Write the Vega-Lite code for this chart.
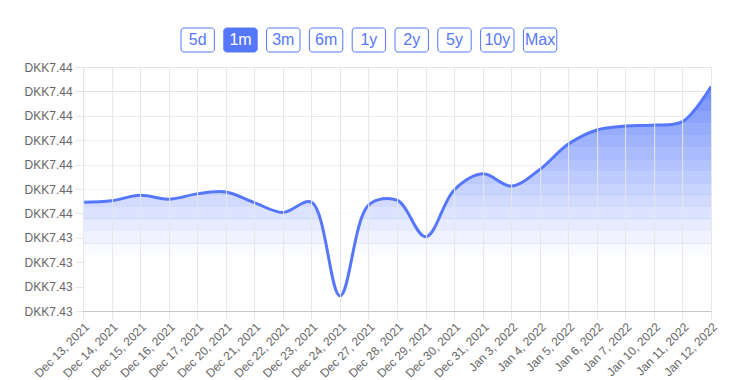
{
  "$schema": "https://vega.github.io/schema/vega-lite/v6.json",
  "padding": {"left": 24, "top": 27, "right": 5, "bottom": 5},
  "background": "white",
  "center": true,
  "config": {
    "font": "Liberation Sans",
    "view": {"stroke": null},
    "concat": {"spacing": 8},
    "axisY": {
      "title": null,
      "zindex": 1,
      "grid": true,
      "labelOverlap": false,
      "labelFlush": false,
      "labelFontSize": 12,
      "labelColor": "#666",
      "labelPadding": 3,
      "tickSize": 8,
      "tickColor": "#e6e6e6",
      "gridColor": "#e6e6e6",
      "domainColor": "#c8c8c8"
    }
  },
  "datasets": {
    "buttons": [
      {"label": "5d", "selected": false},
      {"label": "1m", "selected": true},
      {"label": "3m", "selected": false},
      {"label": "6m", "selected": false},
      {"label": "1y", "selected": false},
      {"label": "2y", "selected": false},
      {"label": "5y", "selected": false},
      {"label": "10y", "selected": false},
      {"label": "Max", "selected": false}
    ],
    "rates": [
      {"date": "Dec 13, 2021", "rate": 7.43553},
      {"date": "Dec 14, 2021", "rate": 7.43556},
      {"date": "Dec 15, 2021", "rate": 7.43567},
      {"date": "Dec 16, 2021", "rate": 7.43559},
      {"date": "Dec 17, 2021", "rate": 7.43570},
      {"date": "Dec 20, 2021", "rate": 7.43574},
      {"date": "Dec 21, 2021", "rate": 7.43552},
      {"date": "Dec 22, 2021", "rate": 7.43532},
      {"date": "Dec 23, 2021", "rate": 7.43553},
      {"date": "Dec 24, 2021", "rate": 7.43361},
      {"date": "Dec 27, 2021", "rate": 7.43547},
      {"date": "Dec 28, 2021", "rate": 7.43557},
      {"date": "Dec 29, 2021", "rate": 7.43482},
      {"date": "Dec 30, 2021", "rate": 7.43578},
      {"date": "Dec 31, 2021", "rate": 7.43611},
      {"date": "Jan 3, 2022", "rate": 7.43586},
      {"date": "Jan 4, 2022", "rate": 7.43620},
      {"date": "Jan 5, 2022", "rate": 7.43672},
      {"date": "Jan 6, 2022", "rate": 7.43701},
      {"date": "Jan 7, 2022", "rate": 7.43709},
      {"date": "Jan 10, 2022", "rate": 7.43711},
      {"date": "Jan 11, 2022", "rate": 7.43718},
      {"date": "Jan 12, 2022", "rate": 7.43790}
    ]
  },
  "vconcat": [
    {
      "width": 440,
      "height": 24,
      "data": {"name": "buttons"},
      "encoding": {
        "x": {
          "field": "label",
          "type": "nominal",
          "sort": null,
          "axis": null,
          "scale": {"type": "band", "paddingInner": 0.22, "paddingOuter": 0.75, "align": 0}
        }
      },
      "layer": [
        {
          "mark": {"type": "bar", "cornerRadius": 3, "strokeWidth": 1, "stroke": "#5677fc"},
          "encoding": {
            "fill": {
              "condition": {"test": "datum.selected", "value": "#5677fc"},
              "value": "white"
            }
          }
        },
        {
          "mark": {"type": "text", "fontSize": 16, "baseline": "middle"},
          "encoding": {
            "text": {"field": "label"},
            "color": {
              "condition": {"test": "datum.selected", "value": "white"},
              "value": "#5677fc"
            },
            "fontWeight": {
              "condition": {"test": "datum.selected", "value": "bold"},
              "value": "normal"
            }
          }
        }
      ]
    },
    {
      "width": 628,
      "height": 244,
      "layer": [
        {
          "data": {"name": "rates"},
          "mark": {"type": "area", "interpolate": "catmull-rom", "clip": true, "color": "#5677fc", "opacity": 0.82},
          "encoding": {
            "x": {
              "field": "date",
              "type": "ordinal",
              "sort": null,
              "scale": {"type": "point", "padding": 0},
              "axis": {
                "title": null,
                "zindex": 1,
                "labelAngle": -45,
                "labelAlign": "right",
                "labelBaseline": "top",
                "labelFontSize": 12,
                "labelColor": "#666",
                "labelPadding": 2,
                "tickSize": 8,
                "tickColor": "#e6e6e6",
                "grid": true,
                "gridColor": "#e6e6e6",
                "domainColor": "#c8c8c8",
                "labelOverlap": false
              }
            },
            "y": {
              "field": "rate",
              "type": "quantitative",
              "scale": {"domain": [7.4333, 7.4383], "zero": false, "nice": false},
              "axis": {"values": [7.4333, 7.4338, 7.4343, 7.4348, 7.4353, 7.4358, 7.4363, 7.4368, 7.4373, 7.4378, 7.4383], "labelExpr": "'DKK' + format(datum.value, '.2f')"}
            }
          }
        },
        {"data": {"values": [{}]}, "mark": {"type": "rect", "color": "white", "opacity": 0.036}, "encoding": {"y": {"datum": 7.43789, "type": "quantitative", "axis": {"values": [7.4333, 7.4338, 7.4343, 7.4348, 7.4353, 7.4358, 7.4363, 7.4368, 7.4373, 7.4378, 7.4383], "labelExpr": "'DKK' + format(datum.value, '.2f')"}}, "y2": {"datum": 7.43764}}},
        {"data": {"values": [{}]}, "mark": {"type": "rect", "color": "white", "opacity": 0.107}, "encoding": {"y": {"datum": 7.43764, "type": "quantitative", "axis": {"values": [7.4333, 7.4338, 7.4343, 7.4348, 7.4353, 7.4358, 7.4363, 7.4368, 7.4373, 7.4378, 7.4383], "labelExpr": "'DKK' + format(datum.value, '.2f')"}}, "y2": {"datum": 7.43740}}},
        {"data": {"values": [{}]}, "mark": {"type": "rect", "color": "white", "opacity": 0.179}, "encoding": {"y": {"datum": 7.43740, "type": "quantitative", "axis": {"values": [7.4333, 7.4338, 7.4343, 7.4348, 7.4353, 7.4358, 7.4363, 7.4368, 7.4373, 7.4378, 7.4383], "labelExpr": "'DKK' + format(datum.value, '.2f')"}}, "y2": {"datum": 7.43715}}},
        {"data": {"values": [{}]}, "mark": {"type": "rect", "color": "white", "opacity": 0.25}, "encoding": {"y": {"datum": 7.43715, "type": "quantitative", "axis": {"values": [7.4333, 7.4338, 7.4343, 7.4348, 7.4353, 7.4358, 7.4363, 7.4368, 7.4373, 7.4378, 7.4383], "labelExpr": "'DKK' + format(datum.value, '.2f')"}}, "y2": {"datum": 7.43691}}},
        {"data": {"values": [{}]}, "mark": {"type": "rect", "color": "white", "opacity": 0.32}, "encoding": {"y": {"datum": 7.43691, "type": "quantitative", "axis": {"values": [7.4333, 7.4338, 7.4343, 7.4348, 7.4353, 7.4358, 7.4363, 7.4368, 7.4373, 7.4378, 7.4383], "labelExpr": "'DKK' + format(datum.value, '.2f')"}}, "y2": {"datum": 7.43666}}},
        {"data": {"values": [{}]}, "mark": {"type": "rect", "color": "white", "opacity": 0.39}, "encoding": {"y": {"datum": 7.43666, "type": "quantitative", "axis": {"values": [7.4333, 7.4338, 7.4343, 7.4348, 7.4353, 7.4358, 7.4363, 7.4368, 7.4373, 7.4378, 7.4383], "labelExpr": "'DKK' + format(datum.value, '.2f')"}}, "y2": {"datum": 7.43641}}},
        {"data": {"values": [{}]}, "mark": {"type": "rect", "color": "white", "opacity": 0.46}, "encoding": {"y": {"datum": 7.43641, "type": "quantitative", "axis": {"values": [7.4333, 7.4338, 7.4343, 7.4348, 7.4353, 7.4358, 7.4363, 7.4368, 7.4373, 7.4378, 7.4383], "labelExpr": "'DKK' + format(datum.value, '.2f')"}}, "y2": {"datum": 7.43617}}},
        {"data": {"values": [{}]}, "mark": {"type": "rect", "color": "white", "opacity": 0.536}, "encoding": {"y": {"datum": 7.43617, "type": "quantitative", "axis": {"values": [7.4333, 7.4338, 7.4343, 7.4348, 7.4353, 7.4358, 7.4363, 7.4368, 7.4373, 7.4378, 7.4383], "labelExpr": "'DKK' + format(datum.value, '.2f')"}}, "y2": {"datum": 7.43592}}},
        {"data": {"values": [{}]}, "mark": {"type": "rect", "color": "white", "opacity": 0.607}, "encoding": {"y": {"datum": 7.43592, "type": "quantitative", "axis": {"values": [7.4333, 7.4338, 7.4343, 7.4348, 7.4353, 7.4358, 7.4363, 7.4368, 7.4373, 7.4378, 7.4383], "labelExpr": "'DKK' + format(datum.value, '.2f')"}}, "y2": {"datum": 7.43568}}},
        {"data": {"values": [{}]}, "mark": {"type": "rect", "color": "white", "opacity": 0.68}, "encoding": {"y": {"datum": 7.43568, "type": "quantitative", "axis": {"values": [7.4333, 7.4338, 7.4343, 7.4348, 7.4353, 7.4358, 7.4363, 7.4368, 7.4373, 7.4378, 7.4383], "labelExpr": "'DKK' + format(datum.value, '.2f')"}}, "y2": {"datum": 7.43543}}},
        {"data": {"values": [{}]}, "mark": {"type": "rect", "color": "white", "opacity": 0.75}, "encoding": {"y": {"datum": 7.43543, "type": "quantitative", "axis": {"values": [7.4333, 7.4338, 7.4343, 7.4348, 7.4353, 7.4358, 7.4363, 7.4368, 7.4373, 7.4378, 7.4383], "labelExpr": "'DKK' + format(datum.value, '.2f')"}}, "y2": {"datum": 7.43519}}},
        {"data": {"values": [{}]}, "mark": {"type": "rect", "color": "white", "opacity": 0.82}, "encoding": {"y": {"datum": 7.43519, "type": "quantitative", "axis": {"values": [7.4333, 7.4338, 7.4343, 7.4348, 7.4353, 7.4358, 7.4363, 7.4368, 7.4373, 7.4378, 7.4383], "labelExpr": "'DKK' + format(datum.value, '.2f')"}}, "y2": {"datum": 7.43494}}},
        {"data": {"values": [{}]}, "mark": {"type": "rect", "color": "white", "opacity": 0.89}, "encoding": {"y": {"datum": 7.43494, "type": "quantitative", "axis": {"values": [7.4333, 7.4338, 7.4343, 7.4348, 7.4353, 7.4358, 7.4363, 7.4368, 7.4373, 7.4378, 7.4383], "labelExpr": "'DKK' + format(datum.value, '.2f')"}}, "y2": {"datum": 7.43469}}},
        {"data": {"values": [{}]}, "mark": {"type": "rect", "color": "white", "opacity": 0.96}, "encoding": {"y": {"datum": 7.43469, "type": "quantitative", "axis": {"values": [7.4333, 7.4338, 7.4343, 7.4348, 7.4353, 7.4358, 7.4363, 7.4368, 7.4373, 7.4378, 7.4383], "labelExpr": "'DKK' + format(datum.value, '.2f')"}}, "y2": {"datum": 7.43445}}},
        {"data": {"values": [{}]}, "mark": {"type": "rect", "color": "white", "opacity": 1}, "encoding": {"y": {"datum": 7.43445, "type": "quantitative", "axis": {"values": [7.4333, 7.4338, 7.4343, 7.4348, 7.4353, 7.4358, 7.4363, 7.4368, 7.4373, 7.4378, 7.4383], "labelExpr": "'DKK' + format(datum.value, '.2f')"}}, "y2": {"datum": 7.4333}}},
        {
          "data": {"name": "rates"},
          "mark": {"type": "line", "interpolate": "catmull-rom", "color": "#5677fc", "strokeWidth": 3, "clip": true},
          "encoding": {
            "x": {"field": "date", "type": "ordinal", "sort": null},
            "y": {
              "field": "rate",
              "type": "quantitative",
              "axis": {"values": [7.4333, 7.4338, 7.4343, 7.4348, 7.4353, 7.4358, 7.4363, 7.4368, 7.4373, 7.4378, 7.4383], "labelExpr": "'DKK' + format(datum.value, '.2f')"}
            }
          }
        }
      ]
    }
  ]
}
